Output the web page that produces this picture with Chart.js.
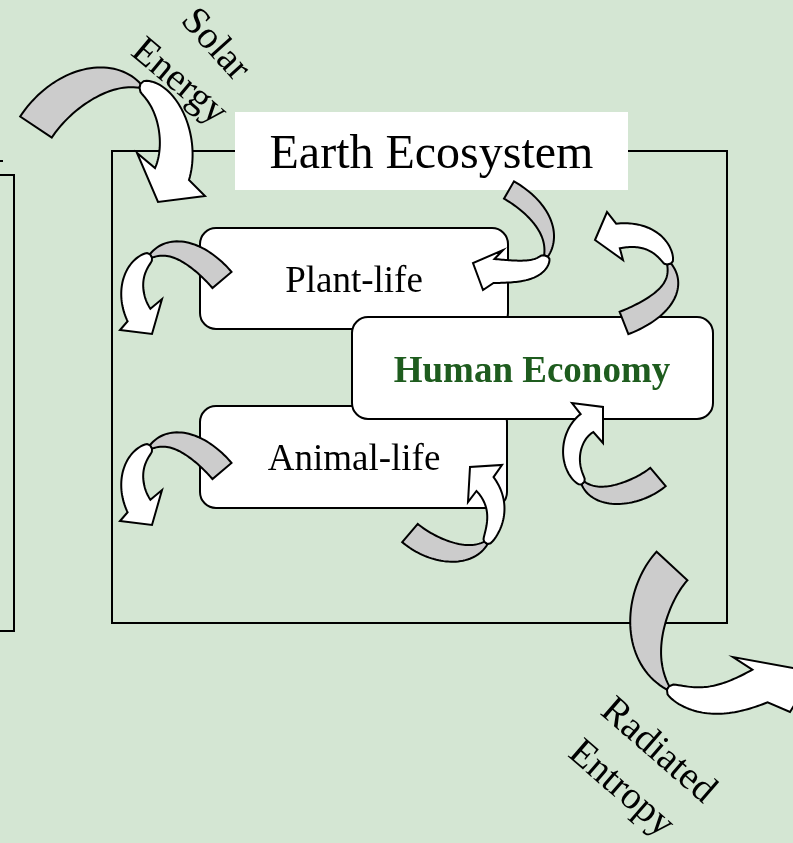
<!DOCTYPE html>
<html>
<head>
<meta charset="utf-8">
<script src="https://cdn.jsdelivr.net/npm/chart.js@4.4.1/dist/chart.umd.min.js"></script>
<style>
  body { margin: 0; background: #d4e6d3; }
  canvas { display: block; }
</style>
</head>
<body>
<canvas id="diagram" width="793" height="843"></canvas>
<script>
// nodes of the diagram (plot units = pixels of the 793x843 picture)
const nodeLabels = ['Plant-life', 'Animal-life', 'Human Economy'];
const nodeLeft = [200, 200, 352];
const nodeTop = [228, 406, 317];
const nodeRight = [508, 507, 713];
const nodeBottom = [329, 508, 419];
const nodeTextX = [354, 354, 532];
const nodeTextY = [292, 470, 382];

const frameBox = [112, 151, 727, 623];
const titleBox = [235, 112, 628, 190];
const titleText = 'Earth Ecosystem';
const leftBox = [-10, 175, 14, 631];

const sideLabels = ['Solar', 'Energy', 'Radiated', 'Entropy'];
const sideX = [215, 179, 658, 621];
const sideY = [45, 82, 751, 789];
const sideAngle = [48, 40, 41, 41];

// curved arrows: gray tail curve, white head curve, head triangle
const arrowGray = [
    [[36, 127], [62, 88], [108, 68], [140, 86]],
    [[509, 190], [535, 205], [556, 230], [546, 256]],
    [[624, 323], [652, 312], [682, 292], [669, 264]],
    [[222, 280], [205, 260], [175, 238], [151, 256]],
    [[222, 471], [205, 451], [175, 429], [151, 447]],
    [[410, 533], [430, 550], [466, 562], [486, 543]],
    [[658, 477], [640, 492], [600, 505], [583, 483]],
    [[672, 566], [648, 592], [632, 652], [668, 688]]
];
const arrowWhite = [
    [[140, 86], [168, 92], [184, 140], [172, 174]],
    [[546, 256], [540, 272], [520, 272], [494, 271]],
    [[669, 264], [664, 244], [645, 232], [618, 236]],
    [[151, 256], [130, 268], [128, 295], [139, 315]],
    [[151, 447], [130, 459], [128, 486], [139, 506]],
    [[486, 543], [500, 520], [498, 500], [485, 484]],
    [[583, 483], [565, 465], [570, 435], [587, 423]],
    [[668, 688], [700, 708], [730, 700], [760, 686]]
];
const arrowHead = [
    [[137, 153], [158, 202], [205, 196]],
    [[503, 250], [473, 263], [483, 290]],
    [[607, 212], [595, 240], [623, 260]],
    [[120, 330], [152, 334], [162, 299]],
    [[120, 521], [152, 525], [162, 490]],
    [[468, 502], [470, 467], [502, 465]],
    [[572, 403], [603, 407], [603, 443]],
    [[733, 657], [815, 672], [790, 712]]
];
const tailWidth = [38, 20, 24, 25, 25, 24, 24, 42];
const headWidth = [36, 24, 25, 26, 26, 22, 22, 36];

function bez(p, t) {
    const u = 1 - t;
    return [
        u*u*u*p[0][0] + 3*u*u*t*p[1][0] + 3*u*t*t*p[2][0] + t*t*t*p[3][0],
        u*u*u*p[0][1] + 3*u*u*t*p[1][1] + 3*u*t*t*p[2][1] + t*t*t*p[3][1]
    ];
}
function bezD(p, t) {
    const u = 1 - t;
    return [
        3*u*u*(p[1][0]-p[0][0]) + 6*u*t*(p[2][0]-p[1][0]) + 3*t*t*(p[3][0]-p[2][0]),
        3*u*u*(p[1][1]-p[0][1]) + 6*u*t*(p[2][1]-p[1][1]) + 3*t*t*(p[3][1]-p[2][1])
    ];
}

// band along a curve, width from w0 to w1
function bandSides(p, w0, w1, grow) {
    const a = [], b = [];
    const n = 40;
    for (let i = 0; i <= n; i++) {
        const t = i / n;
        const c = bez(p, t);
        const d = bezD(p, t);
        const len = Math.hypot(d[0], d[1]) || 1;
        const nx = -d[1] / len, ny = d[0] / len;
        const f = grow ? Math.pow(t, 0.4) : Math.pow(t, 2.4);
        const w = (w0 + (w1 - w0) * f) / 2;
        a.push([c[0] + nx * w, c[1] + ny * w]);
        b.push([c[0] - nx * w, c[1] - ny * w]);
    }
    return [a, b];
}

const diagramPlugin = {
    id: 'diagram',
    beforeDraw(chart) {
        const ctx = chart.ctx;
        ctx.save();
        ctx.fillStyle = '#d4e6d3';
        ctx.fillRect(0, 0, chart.width, chart.height);
        ctx.restore();
    },
    afterDatasetsDraw(chart) {
        const ctx = chart.ctx;
        const sx = chart.scales.x, sy = chart.scales.y;
        const P = (pt) => [sx.getPixelForValue(pt[0]), sy.getPixelForValue(pt[1])];
        const X = (v) => sx.getPixelForValue(v);
        const Y = (v) => sy.getPixelForValue(v);

        ctx.save();
        ctx.strokeStyle = '#000';
        ctx.lineWidth = 2;
        ctx.lineJoin = 'miter';

        // left partial box
        ctx.strokeRect(X(leftBox[0]), Y(leftBox[1]), X(leftBox[2]) - X(leftBox[0]), Y(leftBox[3]) - Y(leftBox[1]));
        ctx.fillStyle = '#000';
        ctx.fillRect(0, 160, 3, 2);

        // earth frame
        ctx.strokeRect(X(frameBox[0]), Y(frameBox[1]), X(frameBox[2]) - X(frameBox[0]), Y(frameBox[3]) - Y(frameBox[1]));

        // title
        ctx.fillStyle = '#fff';
        ctx.fillRect(X(titleBox[0]), Y(titleBox[1]), X(titleBox[2]) - X(titleBox[0]), Y(titleBox[3]) - Y(titleBox[1]));
        ctx.fillStyle = '#000';
        ctx.font = '48px "Liberation Serif", "Times New Roman", serif';
        ctx.textAlign = 'center';
        ctx.textBaseline = 'alphabetic';
        ctx.fillText(titleText, X((titleBox[0] + titleBox[2]) / 2), Y(168));

        // node boxes
        for (let i = 0; i < nodeLabels.length; i++) {
            const l = X(nodeLeft[i]), t = Y(nodeTop[i]);
            const w = X(nodeRight[i]) - l, h = Y(nodeBottom[i]) - t;
            ctx.beginPath();
            ctx.roundRect(l, t, w, h, 16);
            ctx.fillStyle = '#fff';
            ctx.fill();
            ctx.stroke();
        }
        for (let i = 0; i < nodeLabels.length; i++) {
            const human = i === 2;
            ctx.font = (human ? 'bold ' : '') + '37px "Liberation Serif", "Times New Roman", serif';
            ctx.fillStyle = human ? '#1e5c1e' : '#000';
            ctx.fillText(nodeLabels[i], X(nodeTextX[i]), Y(nodeTextY[i]));
        }

        // arrows
        for (let k = 0; k < arrowGray.length; k++) {
            const g = arrowGray[k].map(P);
            const wh = arrowWhite[k].map(P);
            const hd = arrowHead[k].map(P);

            let s = bandSides(g, tailWidth[k], 4, false);
            ctx.beginPath();
            s[0].forEach((q, i) => i ? ctx.lineTo(q[0], q[1]) : ctx.moveTo(q[0], q[1]));
            for (let i = s[1].length - 1; i >= 0; i--) ctx.lineTo(s[1][i][0], s[1][i][1]);
            ctx.closePath();
            ctx.fillStyle = '#cccccc';
            ctx.fill();
            ctx.stroke();

            s = bandSides(wh, 4, headWidth[k], true);
            const endA = s[0][s[0].length - 1];
            let h = hd.slice();
            if (Math.hypot(endA[0] - h[0][0], endA[1] - h[0][1]) > Math.hypot(endA[0] - h[2][0], endA[1] - h[2][1])) h.reverse();
            ctx.beginPath();
            s[0].forEach((q, i) => i ? ctx.lineTo(q[0], q[1]) : ctx.moveTo(q[0], q[1]));
            h.forEach(q => ctx.lineTo(q[0], q[1]));
            for (let i = s[1].length - 1; i >= 0; i--) ctx.lineTo(s[1][i][0], s[1][i][1]);
            ctx.closePath();
            ctx.fillStyle = '#fff';
            ctx.fill();
            ctx.stroke();
        }

        // rotated labels
        ctx.fillStyle = '#000';
        ctx.font = '39px "Liberation Serif", "Times New Roman", serif';
        ctx.textBaseline = 'middle';
        for (let i = 0; i < sideLabels.length; i++) {
            ctx.save();
            ctx.translate(X(sideX[i]), Y(sideY[i]));
            ctx.rotate(sideAngle[i] * Math.PI / 180);
            ctx.fillText(sideLabels[i], 0, 0);
            ctx.restore();
        }
        ctx.restore();
    }
};

new Chart(document.getElementById('diagram'), {
    type: 'scatter',
    data: {
        datasets: [{
            label: 'nodes',
            data: nodeLabels.map((n, i) => ({ x: nodeTextX[i], y: nodeTextY[i] })),
            pointRadius: 0
        }]
    },
    options: {
        responsive: false,
        animation: false,
        layout: { padding: 0 },
        plugins: { legend: { display: false }, tooltip: { enabled: false } },
        scales: {
            x: { type: 'linear', min: 0, max: 793, display: false },
            y: { type: 'linear', min: 0, max: 843, reverse: true, display: false }
        }
    },
    plugins: [diagramPlugin]
});
</script>
</body>
</html>
